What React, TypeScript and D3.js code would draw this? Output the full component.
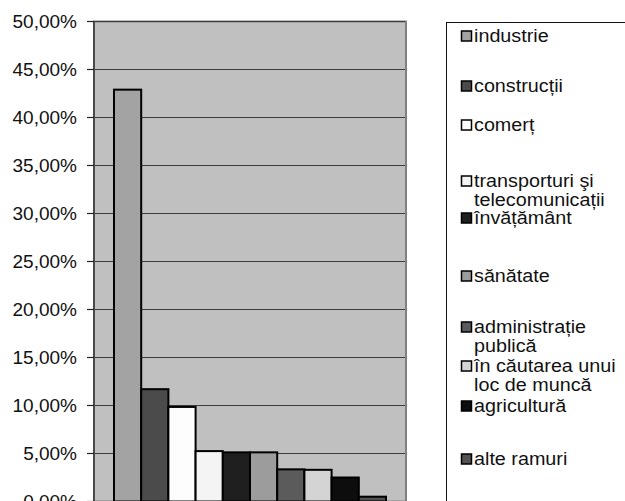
import React from 'react';
import * as d3 from 'd3';

// sectors (one series each) and their share of the total
const sectors = [
  'industrie',
  'construcții',
  'comerț',
  'transporturi şi telecomunicații',
  'învățământ',
  'sănătate',
  'administrație publică',
  'în căutarea unui loc de muncă',
  'agricultură',
  'alte ramuri'
];
const shares = [0.429, 0.117, 0.0985, 0.0525, 0.0512, 0.0512, 0.0335, 0.033, 0.025, 0.005];
const fills = ['#a3a3a3', '#4b4b4b', '#fdfdfd', '#f4f4f4', '#1f1f1f', '#9c9c9c', '#5b5b5b', '#d4d4d4', '#0d0d0d', '#525252'];

// legend text as it is wrapped in the picture
const legendLines = [
  ['industrie'],
  ['construcții'],
  ['comerț'],
  ['transporturi şi', 'telecomunicații'],
  ['învățământ'],
  ['sănătate'],
  ['administrație', 'publică'],
  ['în căutarea unui', 'loc de muncă'],
  ['agricultură'],
  ['alte ramuri']
];
// vertical centre of the first line of every legend entry
const legendRowY = [36, 86, 125, 181, 218, 276, 327, 366, 406, 459];

const W = 625;
const H = 501;
const plot = { left: 94, right: 406, top: 21.5, bottom: 501.5 };
const font = '"Liberation Sans", Arial, sans-serif';

const ro = d3.formatLocale({ decimal: ',', thousands: '.', grouping: [3], currency: ['', ' lei'] });
const pct = ro.format('.2%');

export default function App() {
  const x = d3.scaleBand<string>()
    .domain(sectors)
    .range([plot.left, plot.right])
    .paddingInner(0)
    .paddingOuter(0.735);

  const y = d3.scaleLinear().domain([0, 0.5]).range([plot.bottom, plot.top]);
  const ticks = y.ticks(10);

  const legendX = 446.5;
  const swatch = 10;
  const lineH = 19;

  return (
    <svg
      width={W}
      height={H}
      style={{ position: 'fixed', left: 0, top: 0, background: '#fff', fontFamily: font }}
    >
      {/* plot area */}
      <rect
        x={plot.left}
        y={plot.top}
        width={plot.right - plot.left}
        height={plot.bottom - plot.top}
        fill="#c0c0c0"
        stroke="#808080"
        strokeWidth={2}
      />

      {/* gridlines */}
      {ticks.filter(t => t > 0).map(t => (
        <line key={'g' + t} x1={plot.left} x2={plot.right - 1} y1={y(t)} y2={y(t)} stroke="#3c3c3c" strokeWidth={1.2} />
      ))}

      {/* bars */}
      {sectors.map((s, i) => (
        <rect
          key={s}
          x={x(s)}
          y={y(shares[i])}
          width={x.bandwidth()}
          height={y(0) - y(shares[i])}
          fill={fills[i]}
          stroke="#000"
          strokeWidth={2}
        />
      ))}

      {/* value axis */}
      <line x1={plot.left} x2={plot.left} y1={plot.top} y2={plot.bottom} stroke="#4a4a4a" strokeWidth={2} />
      {ticks.map(t => (
        <g key={'t' + t}>
          <line x1={plot.left - 7} x2={plot.left} y1={y(t)} y2={y(t)} stroke="#222" strokeWidth={1.2} />
          <text
            x={77}
            y={y(t)}
            dy="0.36em"
            textAnchor="end"
            fontSize={19}
            fill="#111"
          >
            {pct(t)}
          </text>
        </g>
      ))}

      {/* legend */}
      <rect x={legendX} y={22.5} width={W} height={H} fill="#fff" stroke="#111" strokeWidth={1} />
      {sectors.map((s, i) => (
        <g key={'l' + s}>
          <rect
            x={461.5}
            y={legendRowY[i] - swatch / 2}
            width={swatch}
            height={swatch}
            fill={fills[i]}
            stroke="#000"
            strokeWidth={1.5}
          />
          {legendLines[i].map((line, j) => (
            <text
              key={line}
              transform={`translate(474,${legendRowY[i] + j * lineH}) scale(1.13,1)`}
              dy="0.36em"
              fontSize={17.5}
              fill="#111"
            >
              {line}
            </text>
          ))}
        </g>
      ))}
    </svg>
  );
}
